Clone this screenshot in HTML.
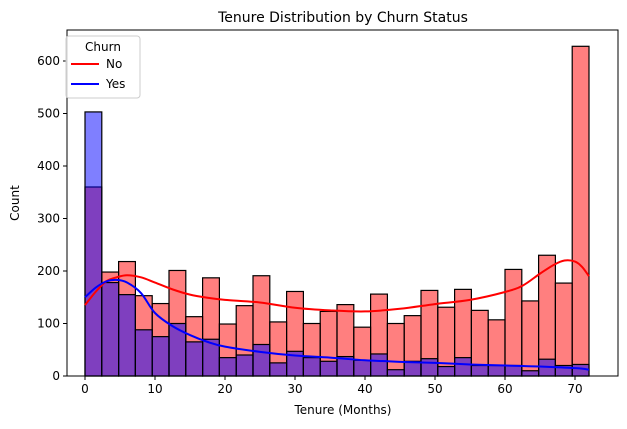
<!DOCTYPE html>
<html><head><meta charset="utf-8"><style>
body{margin:0;background:#fff;font-family:"Liberation Sans","DejaVu Sans",sans-serif}
svg text{font-family:"DejaVu Sans","Liberation Sans",sans-serif;fill:#000}
</style></head><body>
<svg id="c" width="627" height="424"></svg>
<script>
const binCount=30, binWidth=2.4;
const noCounts=[360,198,218,153,138,201,113,187,99,134,191,103,161,100,123,136,93,156,100,115,163,131,165,125,107,203,143,230,177,628];
const yesCounts=[503,178,155,88,75,100,65,70,35,40,60,25,47,35,28,37,30,42,12,28,33,18,35,20,20,20,10,32,20,22];
const kdeX=[0,1.5,3,4.5,6,8,10,12.5,15,17.5,20,25,30,35,40,45,50,55,60,62.5,65,67,68.5,70,71,72];
const kdeNo=[135,160,180,188,192,188,178,165,155,149,145,140,130,125,123,128,137,145,160,172,195,212,220,218,208,190];
const kdeYes=[150,168,180,183,178,158,120,95,78,65,56,46,39,35,30,27,25,22,20,19,18,17,16,15,14,12];
const xTicks=[0,10,20,30,40,50,60,70];
const yTicks=[0,100,200,300,400,500,600];
const L=67,R=618,T=30,B=376;
const xs=v=>85+7*v, ys=v=>376-v*0.525;
const svg=document.getElementById('c');const NS='http://www.w3.org/2000/svg';
function mk(t,a,p){const e=document.createElementNS(NS,t);for(const k in a)e.setAttribute(k,a[k]);(p||svg).appendChild(e);return e;}
function bars(arr,col,name){arr.forEach((v,i)=>{const x0=xs(i*binWidth),x1=xs((i+1)*binWidth);
const r=mk('rect',{x:x0,y:ys(v),width:x1-x0,height:ys(0)-ys(v),fill:col,'fill-opacity':0.5,stroke:'#000','stroke-width':1.2});

});}
bars(noCounts,'#ff0000','no');
bars(yesCounts,'#0000ff','yes');
function line(xa,ya,col,name){const P=xa.map((x,i)=>[xs(x),ys(ya[i])]);
let d='M'+P[0][0]+','+P[0][1];
for(let i=0;i<P.length-1;i++){const p0=P[Math.max(0,i-1)],p1=P[i],p2=P[i+1],p3=P[Math.min(P.length-1,i+2)];
const c1=[p1[0]+(p2[0]-p0[0])/6,p1[1]+(p2[1]-p0[1])/6],c2=[p2[0]-(p3[0]-p1[0])/6,p2[1]-(p3[1]-p1[1])/6];
d+='C'+c1[0]+','+c1[1]+' '+c2[0]+','+c2[1]+' '+p2[0]+','+p2[1];}
const p=mk('path',{d:d,fill:'none',stroke:col,'stroke-width':2});

}
line(kdeX,kdeNo,'#ff0000','kde-no');
line(kdeX,kdeYes,'#0000ff','kde-yes');
const fr=mk('rect',{x:L,y:T,width:R-L,height:B-T,fill:'none',stroke:'#000','stroke-width':1});


xTicks.forEach(t=>{mk('line',{x1:xs(t),x2:xs(t),y1:B,y2:B+4,stroke:'#000'});
const tx=mk('text',{x:xs(t),y:B+17,'text-anchor':'middle','font-size':12});tx.textContent=t;

});
yTicks.forEach(t=>{mk('line',{x1:L-4,x2:L,y1:ys(t),y2:ys(t),stroke:'#000'});
const tx=mk('text',{x:L-7,y:ys(t)+4,'text-anchor':'end','font-size':12});tx.textContent=t;

});
</script>
<svg width="627" height="424" style="position:absolute;left:0;top:0">
<text x="343" y="22" text-anchor="middle" font-size="14">Tenure Distribution by Churn Status</text>
<text x="343" y="414" text-anchor="middle" font-size="12">Tenure (Months)</text>
<text x="19" y="203" text-anchor="middle" font-size="12" transform="rotate(-90 19 203)">Count</text>
<g>
<rect x="66" y="36" width="74" height="62" rx="3" fill="#fff" fill-opacity="0.8" stroke="#ccc"/>
<text x="103" y="51" text-anchor="middle" font-size="12">Churn</text>
<line x1="71" x2="99" y1="64" y2="64" stroke="#ff0000" stroke-width="2"/>
<text x="106" y="68" font-size="12">No</text>
<line x1="71" x2="99" y1="84" y2="84" stroke="#0000ff" stroke-width="2"/>
<text x="106" y="88" font-size="12">Yes</text>
</g>
</svg>
</body></html>
